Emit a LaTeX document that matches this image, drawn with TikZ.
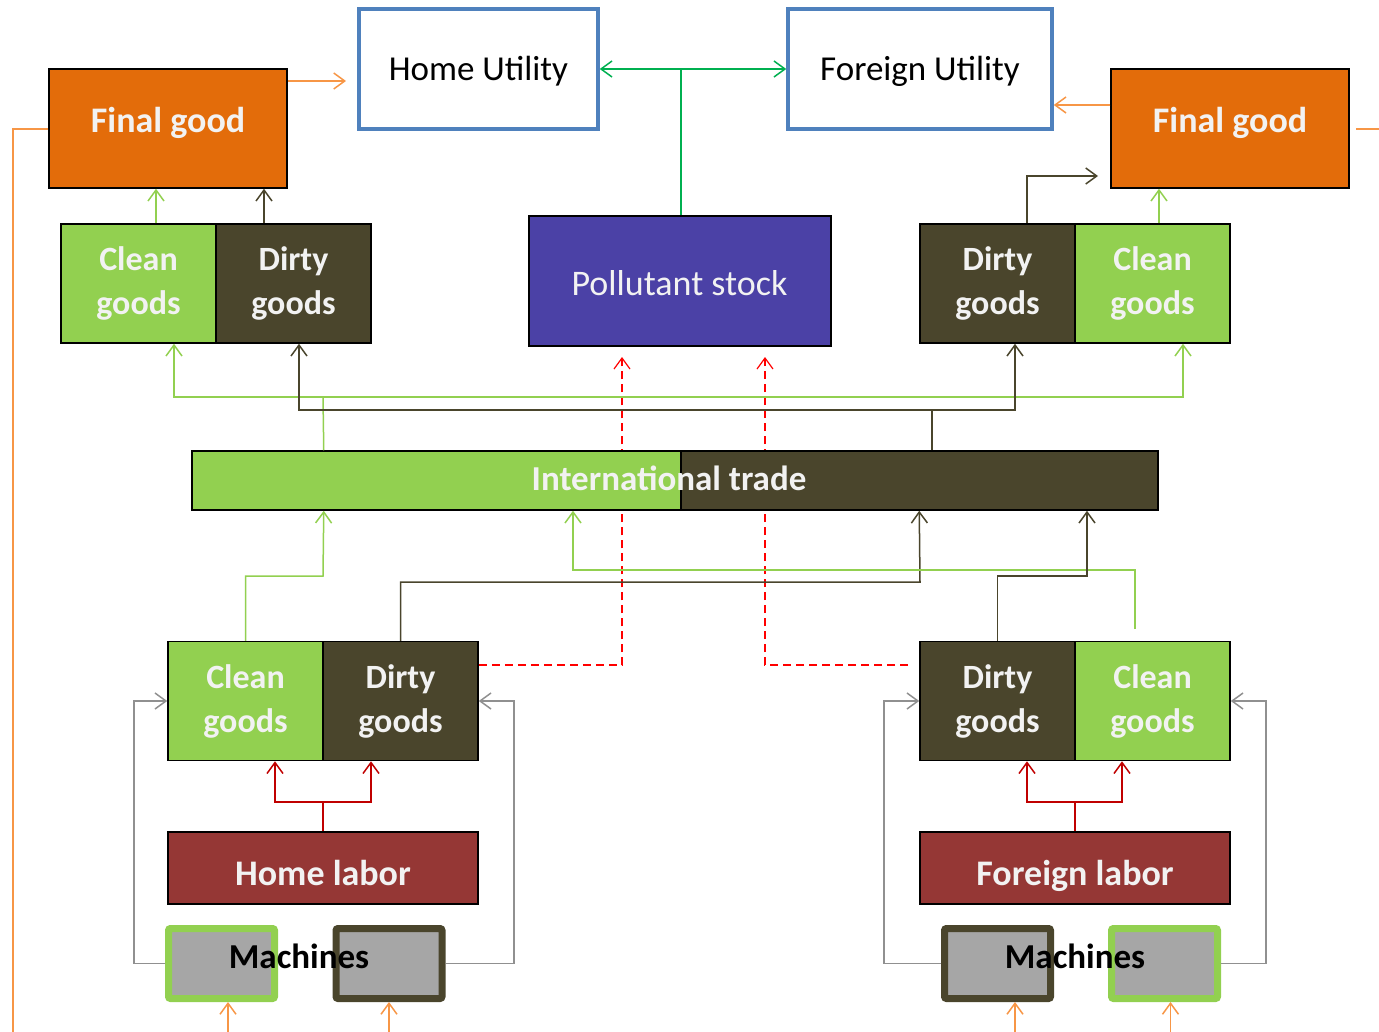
\documentclass[tikz,border=0pt]{standalone}
\usepackage{fontspec}
\setmainfont{Carlito}
\usetikzlibrary{arrows.meta}
\definecolor{cleangreen}{HTML}{92D050}
\definecolor{dirtybrown}{HTML}{4A452C}
\definecolor{finalorange}{HTML}{E36C0A}
\definecolor{lineorange}{HTML}{F79646}
\definecolor{utilblue}{HTML}{4F81BD}
\definecolor{utilgreen}{HTML}{00B050}
\definecolor{pollpurple}{HTML}{4B41A6}
\definecolor{laborred}{HTML}{953735}
\definecolor{arrowred}{HTML}{C00000}
\definecolor{emitred}{HTML}{FF0000}
\definecolor{machgray}{HTML}{A6A6A6}
\definecolor{lightgray}{HTML}{909090}
\definecolor{boxtext}{HTML}{F2F2F2}

\begin{document}
\begin{tikzpicture}[x=1pt,y=-1pt,>={Straight Barb[length=11pt,width=16pt]},
    box/.style={draw=black,line width=1.5pt,inner sep=0pt,text=boxtext,align=center},
    goods/.style={box,minimum width=155pt,minimum height=119pt,font=\bfseries\fontsize{34}{44}\selectfont},
    clean/.style={goods,fill=cleangreen},
    dirty/.style={goods,fill=dirtybrown},
    final/.style={box,fill=finalorange,minimum width=238pt,minimum height=119pt,text height=24pt,text depth=15pt,font=\bfseries\fontsize{36}{40}\selectfont},
    utility/.style={draw=utilblue,line width=3.5pt,inner sep=0pt,minimum height=120pt,text height=24pt,text depth=0pt,font=\fontsize{35}{40}\selectfont},
    labor/.style={box,fill=laborred,minimum width=310pt,minimum height=72pt,text height=34pt,text depth=0pt,font=\bfseries\fontsize{36}{40}\selectfont},
    tradebox/.style={box,minimum height=59pt},
    machine/.style={fill=machgray,line width=7pt,rounded corners=2pt,minimum width=106pt,minimum height=70pt,inner sep=0pt},
    machtext/.style={inner sep=0pt,text height=22pt,text depth=0pt,font=\bfseries\fontsize{35}{40}\selectfont},
    cleanln/.style={cleangreen,line width=1.5pt},
    dirtyln/.style={dirtybrown,line width=1.5pt},
    orangeln/.style={lineorange,line width=1.5pt},
    utilln/.style={utilgreen,line width=1.5pt},
    laborln/.style={arrowred,line width=1.5pt},
    emitln/.style={emitred,line width=1.2pt,dash pattern=on 8pt off 5pt},
    machln/.style={lightgray,line width=1.5pt}]
    \useasboundingbox (0,0) rectangle (1379,1032);
    % utilities and final goods
    \node[utility,minimum width=239pt] (hutil) at (478.5,69) {Home Utility};
    \node[utility,minimum width=264pt] (futil) at (920,69) {Foreign Utility};
    \node[final] (hfinal) at (168,128.5) {Final good};
    \node[final] (ffinal) at (1230,128.5) {Final good};
    \node[box,fill=pollpurple,minimum width=302pt,minimum height=130pt,line width=2pt,text height=29pt,text depth=0pt,font=\fontsize{36}{40}\selectfont] (poll) at (679.5,281) {Pollutant stock};
    % goods at the top
    \node[clean] (hcleanT) at (138.5,283.5) {Clean\\goods};
    \node[dirty] (hdirtyT) at (293.5,283.5) {Dirty\\goods};
    \node[dirty] (fdirtyT) at (997.5,283.5) {Dirty\\goods};
    \node[clean] (fcleanT) at (1152.5,283.5) {Clean\\goods};
    % goods at the bottom
    \node[clean] (hcleanB) at (245.5,701) {Clean\\goods};
    \node[dirty] (hdirtyB) at (400.5,701) {Dirty\\goods};
    \node[dirty] (fdirtyB) at (997.5,701) {Dirty\\goods};
    \node[clean] (fcleanB) at (1152.5,701) {Clean\\goods};
    % emissions
    \coordinate (hemit) at (622,357);
    \coordinate (femit) at (765,357);
    \coordinate (fdash) at (908,665);
    \draw[emitln,->] (hdirtyB.east |- 0,665) -| (hemit);
    \draw[emitln,->] (fdash) -| (femit);
    % trade
    \node[tradebox,fill=cleangreen,minimum width=489pt] (tradeG) at (436.5,480.5) {};
    \node[tradebox,fill=dirtybrown,minimum width=477pt] (tradeD) at (919.5,480.5) {};
    \node[inner sep=0pt,text=boxtext,text height=20pt,text depth=0pt,font=\bfseries\fontsize{35}{40}\selectfont] (trade) at (669,480.5) {International trade};
    % labor and machines
    \node[labor] (hlabor) at (323,868) {Home labor};
    \node[labor] (flabor) at (1075,868) {Foreign labor};
    \node[machine,draw=cleangreen] (hmachC) at (221.5,963.5) {};
    \node[machine,draw=dirtybrown] (hmachD) at (389,963.5) {};
    \node[machine,draw=dirtybrown] (fmachD) at (997.5,963.5) {};
    \node[machine,draw=cleangreen] (fmachC) at (1164.5,963.5) {};
    \node[machtext] (hmach) at (299,957.3) {Machines};
    \node[machtext] (fmach) at (1075,957.3) {Machines};

    \draw[utilln,->] (681,0 |- poll.north) -- (681,0 |- hutil.east) -- (hutil.east);
    \draw[utilln,->] (681,0 |- futil.west) -- (futil.west);
    \coordinate (hgap) at (346,81);
    \draw[orangeln,->] (hfinal.east |- hgap) -- (hgap);
    \draw[orangeln,->] (ffinal.west |- 0,105) -- (futil.east |- 0,105);
    \draw[orangeln] (hfinal.west |- 0,129) -| (13,1032);
    \coordinate (fexit) at (1356,129);
    \draw[orangeln] (fexit) -- (1379,129);

    \draw[cleanln,->] (156,0 |- hcleanT.north) -- (156,0 |- hfinal.south);
    \draw[dirtyln,->] (264,0 |- hdirtyT.north) -- (264,0 |- hfinal.south);
    \coordinate (fgap) at (1098,176);
    \draw[dirtyln,->] (1027,0 |- fdirtyT.north) |- (fgap);
    \draw[cleanln,->] (1159,0 |- fcleanT.north) -- (1159,0 |- ffinal.south);

    \draw[cleanln] (hcleanB.north east |- tradeG.north) -- (323,397);
    \draw[cleanln,<->] (174,0 |- hcleanT.south) |- (1183,397) -- (1183,0 |- fcleanT.south);
    \draw[dirtyln] (932,0 |- tradeD.north) -- (932,410);
    \draw[dirtyln,<->] (299,0 |- hdirtyT.south) |- (1015,410) -- (1015,0 |- fdirtyT.south);

    \draw[cleanln,->] (hcleanB.north) |- (323,576) -- (hcleanB.north east |- tradeG.south);
    \draw[dirtyln,->] (hdirtyB.north) |- (920,582) -- (fdirtyB.north west |- tradeD.south);
    \coordinate (fcleanend) at (1135,629);
    \draw[cleanln,->] (fcleanend) |- (573,570) -- (573,0 |- tradeG.south);
    \draw[dirtyln,->] (fdirtyB.north) |- (1087,576) -- (1087,0 |- tradeD.south);

    \draw[laborln] (hlabor.north) -- (hlabor.north |- 0,802);
    \draw[laborln,<->] (275,0 |- hcleanB.south) |- (hlabor.north |- 0,802) -| (371,0 |- hdirtyB.south);
    \draw[laborln] (flabor.north) -- (flabor.north |- 0,802);
    \draw[laborln,<->] (1027,0 |- fdirtyB.south) |- (flabor.north |- 0,802) -| (1122,0 |- fcleanB.south);

    \draw[machln,->] (hmachC.west) -| (134,701) -- (hcleanB.west);
    \draw[machln,->] (hmachD.east) -| (514,701) -- (hdirtyB.east);
    \draw[machln,->] (fmachD.west) -| (884,701) -- (fdirtyB.west);
    \draw[machln,->] (fmachC.east) -| (1266,701) -- (fcleanB.east);

    \draw[orangeln,->] (228,1032) -- (228,0 |- hmachC.south);
    \draw[orangeln,->] (hmachD.south |- 0,1032) -- (hmachD.south);
    \draw[orangeln,->] (1015,1032) -- (1015,0 |- fmachD.south);
    \draw[orangeln,->] (1170.5,1032) -- (1170.5,0 |- fmachC.south);
\end{tikzpicture}
\end{document}
